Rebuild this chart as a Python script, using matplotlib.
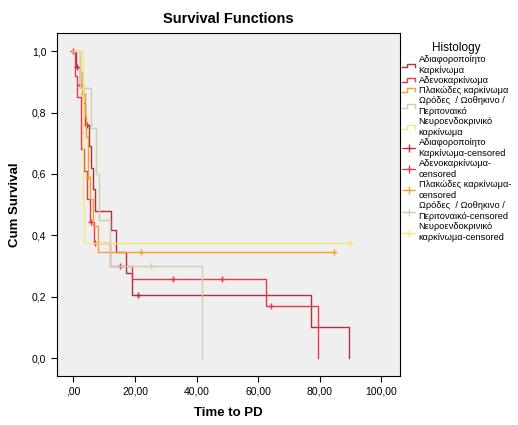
import numpy as np
import matplotlib
matplotlib.use('Agg')
import matplotlib.pyplot as plt
from matplotlib.lines import Line2D
from matplotlib.legend_handler import HandlerBase

plt.rcParams['font.family'] = ['Liberation Sans', 'DejaVu Sans']

# group names (legend order) and colours
groups = ['Αδιαφοροποίητο\nΚαρκίνωμα', 'Αδενοκαρκίνωμα', 'Πλακώδες καρκίνωμα',
          'Ωρόδες  / Ωοθηκινο /\nΠεριτοναικό', 'Νευροενδοκρινικό\nκαρκίνωμα']
censor_labels = ['Αδιαφοροποίητο\nΚαρκίνωμα-censored', 'Αδενοκαρκίνωμα-\ncensored',
                 'Πλακώδες καρκίνωμα-\ncensored', 'Ωρόδες  / Ωοθηκινο /\nΠεριτοναικό-censored',
                 'Νευροενδοκρινικό\nκαρκίνωμα-censored']
colors = ['#b0303c', '#e6394e', '#f0a236', '#cfcfae', '#f7e77a']

# step times / survival after each step, censor times
g1_t = [0, 0.8, 2.0, 3.0, 3.8, 5.0, 5.8, 6.5, 7.0, 12.1, 14.0, 17.1, 18.9, 77.3, 89.4]
g1_s = [1.0, 0.95, 0.89, 0.83, 0.76, 0.69, 0.62, 0.55, 0.48, 0.416, 0.345, 0.277, 0.206, 0.103, 0.0]
g1_c = [1.2, 2.3, 4.3, 21.1]

g2_t = [0, 0.5, 1.3, 2.5, 3.5, 4.5, 5.5, 6.8, 12.0, 19.0, 62.4, 79.5]
g2_s = [1.0, 0.92, 0.85, 0.68, 0.61, 0.52, 0.445, 0.375, 0.30, 0.257, 0.170, 0.0]
g2_c = [0.0, 5.8, 7.1, 15.1, 32.2, 48.3, 64.3]

g3_t = [0, 2.2, 2.8, 3.8, 4.2, 4.6, 5.5, 6.5, 8.1]
g3_s = [1.0, 0.93, 0.86, 0.79, 0.72, 0.59, 0.52, 0.43, 0.345]
g3_c = [3.0, 4.9, 22.0, 84.5]

g4_t = [0, 2.2, 5.6, 7.5, 8.2, 12.0, 41.6]
g4_s = [1.0, 0.88, 0.75, 0.60, 0.45, 0.30, 0.0]
g4_c = [25.1]

g5_t = [0, 3.0, 3.2, 3.4]
g5_s = [1.0, 0.75, 0.5, 0.375]
g5_c = [89.7]

times = [g1_t, g2_t, g3_t, g4_t, g5_t]
surv = [g1_s, g2_s, g3_s, g4_s, g5_s]
cens = [g1_c, g2_c, g3_c, g4_c, g5_c]

xticks = [0, 20, 40, 60, 80, 100]
xticklabels = [',00', '20,00', '40,00', '60,00', '80,00', '100,00']
yticks = [0.0, 0.2, 0.4, 0.6, 0.8, 1.0]
yticklabels = ['0,0', '0,2', '0,4', '0,6', '0,8', '1,0']


class StepHandler(HandlerBase):
    def create_artists(self, legend, orig, xd, yd, w, h, fontsize, trans):
        xs = [xd, xd + 0.35 * w, xd + 0.35 * w, xd + w, xd + w]
        ys = [yd + 0.2 * h, yd + 0.2 * h, yd + 0.8 * h, yd + 0.8 * h, yd + 0.3 * h]
        ln = Line2D(xs, ys, color=orig.get_color(), lw=1.0, transform=trans)
        return [ln]


class CensorHandler(HandlerBase):
    def create_artists(self, legend, orig, xd, yd, w, h, fontsize, trans):
        ln = Line2D([xd, xd + w], [yd + 0.5 * h] * 2, color=orig.get_color(), lw=0.8, transform=trans)
        mk = Line2D([xd + 0.5 * w], [yd + 0.5 * h], color=orig.get_color(), marker='+',
                    markersize=6, mew=1.0, ls='none', transform=trans)
        return [ln, mk]


fig = plt.figure(figsize=(5.18, 4.25), dpi=100)
ax = fig.add_axes([0.1095, 0.116, 0.6625, 0.807])
ax.set_facecolor('#efefef')

line_handles = []
cens_handles = []
for t, s, c, col in zip(times, surv, cens, colors):
    t = list(t)
    s = list(s)
    end = max(c) if s[-1] > 0 else t[-1]
    if end > t[-1]:
        t.append(end)
        s.append(s[-1])
    ax.step(t, s, where='post', color=col, lw=1.0)
    ct = np.array(c)
    idx = np.searchsorted(np.array(t), ct, side='right') - 1
    cs = np.array(s)[idx]
    ax.plot(ct, cs, ls='none', marker='+', color=col, markersize=5, mew=1.0)
    line_handles.append(Line2D([], [], color=col))
    cens_handles.append(Line2D([], [], color=col, marker='+'))

ax.set_xlim(-5.4, 106)
ax.set_ylim(-0.057, 1.06)
ax.set_xticks(xticks)
ax.set_xticklabels(xticklabels, fontsize=7.5)
ax.set_yticks(yticks)
ax.set_yticklabels(yticklabels, fontsize=7.5)
ax.tick_params(direction='out', length=4, width=0.8, colors='black')
for sp in ax.spines.values():
    sp.set_linewidth(0.8)

ax.set_title('Survival Functions', fontsize=10.5, fontweight='bold', pad=7)
ax.set_xlabel('Time to PD', fontsize=9.5, fontweight='bold', labelpad=8)
ax.set_ylabel('Cum Survival', fontsize=9.5, fontweight='bold', labelpad=8)

handler_map = {h: StepHandler() for h in line_handles}
handler_map.update({h: CensorHandler() for h in cens_handles})
leg = fig.legend(line_handles + cens_handles, groups + censor_labels,
                 handler_map=handler_map, loc='upper left', bbox_to_anchor=(0.773, 0.905),
                 frameon=False, fontsize=6.7, title='Histology', title_fontsize=8.5,
                 handlelength=1.4, handletextpad=0.35, labelspacing=0.1, borderaxespad=0,
                 borderpad=0.2)
for txt in leg.get_texts():
    txt.set_linespacing(1.3)

fig.savefig('out.png', dpi=100)
